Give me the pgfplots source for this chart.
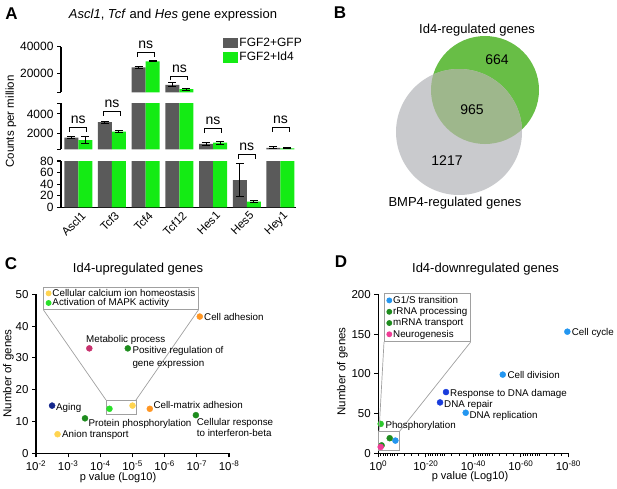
\documentclass[border=0pt]{standalone}
\usepackage{fontspec}
\setmainfont{Liberation Sans}
\usepackage{pgfplots}
\usepackage{pgfplotstable}
\pgfplotsset{compat=1.18}

\definecolor{gfp}{RGB}{90,90,90}
\definecolor{idf}{RGB}{20,235,20}
\definecolor{vgreen}{RGB}{104,190,70}
\definecolor{vgray}{RGB}{201,202,205}
\definecolor{vmix}{RGB}{158,183,140}
\definecolor{cnavy}{RGB}{20,40,140}
\definecolor{cyellow}{RGB}{255,212,80}
\definecolor{cdkgreen}{RGB}{30,140,30}
\definecolor{cmag}{RGB}{200,50,110}
\definecolor{cgreen}{RGB}{40,225,40}
\definecolor{corange}{RGB}{255,150,35}
\definecolor{dltblue}{RGB}{35,150,240}
\definecolor{ddkblue}{RGB}{25,60,220}
\definecolor{dgreen}{RGB}{45,200,45}
\definecolor{dpink}{RGB}{240,60,150}
\definecolor{boxgray}{RGB}{160,160,160}

\pgfplotstableread{
x gfp gfpe idf idfe
0 1540 100 1300 350
1 3140 100 2170 80
2 24500 700 29000 500
3 11200 1500 8000 800
4 890 150 1030 150
5 47 28 10 1
6 500 120 440 40
}\dataA

\tikzset{lab/.style={font=\fontsize{9.8}{11}\selectfont, anchor=base west, inner sep=0pt}}
\pgfplotsset{
 prism/.style={scale only axis,
   axis line style={line width=1.1pt,-},
   every tick/.style={line width=1.1pt,black},
   major tick length=4pt, minor tick length=2.5pt, tick align=outside,
   scaled y ticks=false,
   /pgf/number format/assume math mode=true,
   /pgf/number format/set thousands separator={},
   tick label style={font=\fontsize{12}{14}\selectfont}},
 barsA/.style={prism, anchor=south west, width=235pt, xmin=-0.513, xmax=6.46, clip=true, axis y line*=left},
 scat/.style={only marks, mark=*, mark size=3pt},
}

% #1 = cap (values above it are drawn at #1 without error bars), #2 = floor (values below are dropped)
\newcommand{\barsA}[2]{%
 \addplot[ybar, bar width=14pt, bar shift=-7pt, fill=gfp, draw=none, forget plot,
   restrict y to domain=#2:1000000,
   error bars/.cd, y dir=both, y explicit, error bar style={line width=1pt,black,xshift=-7pt},
   error mark options={rotate=90,line width=1pt,black,mark size=4pt}]
   table[x=x, y expr={min(\thisrow{gfp},#1)}, y error expr={ifthenelse(\thisrow{gfp}>#1,0,\thisrow{gfpe})}]{\dataA};
 \addplot[ybar, bar width=14pt, bar shift=7pt, fill=idf, draw=none, forget plot,
   restrict y to domain=#2:1000000,
   error bars/.cd, y dir=both, y explicit, error bar style={line width=1pt,black,xshift=7pt},
   error mark options={rotate=90,line width=1pt,black,mark size=4pt}]
   table[x=x, y expr={min(\thisrow{idf},#1)}, y error expr={ifthenelse(\thisrow{idf}>#1,0,\thisrow{idfe})}]{\dataA};
}

\begin{document}
\begin{tikzpicture}
\path[use as bounding box] (0,0) rectangle (617pt,488pt);

% ---------------- Panel A ----------------
\begin{axis}[barsA, at={(61pt,395.7pt)}, height=45.6pt, ymin=5700, ymax=40000,
  axis x line=none, ytick={20000,40000}, extra y ticks={5700}, extra y tick labels={},
  legend style={at={(0.688,1.22)}, anchor=north west, draw=none, fill=none,
    font=\fontsize{12}{14}\selectfont, row sep=2.5pt, inner sep=0pt,
    nodes={inner sep=1pt}},
  legend cell align=left,
  legend image code/.code={\fill[#1] (0pt,-5.2pt) rectangle (15.6pt,5.2pt);}]
 \barsA{100000}{5700}
 \addlegendimage{fill=gfp, draw=none}
 \addlegendentry{FGF2+GFP}
 \addlegendimage{fill=idf, draw=none}
 \addlegendentry{FGF2+Id4}
\end{axis}

\begin{axis}[barsA, at={(61pt,338.7pt)}, height=46pt, ymin=340, ymax=5100,
  axis x line=none, ytick={2000,4000}, extra y ticks={340,5100}, extra y tick labels={}]
 \barsA{10000}{340}
\end{axis}

\begin{axis}[barsA, at={(61pt,280.7pt)}, height=46.3pt, ymin=0, ymax=80,
  axis x line*=bottom, ytick={0,20,40,60,80},
  xtick={0,1,2,3,4,5,6}, xticklabels={Ascl1,Tcf3,Tcf4,Tcf12,Hes1,Hes5,Hey1},
  xtick style={draw=none},
  x tick label style={rotate=45, anchor=north east, font=\fontsize{11.5}{13}\selectfont, inner sep=1pt, xshift=3pt}]
 \barsA{150}{0}
\end{axis}

% ---------------- Panel B (Venn) ----------------
\begin{axis}[hide axis, scale only axis, at={(310pt,248pt)}, anchor=south west,
  width=307pt, height=240pt, xmin=310, xmax=617, ymin=0, ymax=240, y dir=reverse, clip=false]
 \fill[vgreen] (axis cs:485,90) circle[radius=54pt];
 \fill[vgray] (axis cs:459,132) circle[radius=63pt];
 \begin{scope}
  \clip (axis cs:459,132) circle[radius=63pt];
  \fill[vmix] (axis cs:485,90) circle[radius=54pt];
 \end{scope}
\end{axis}

% ---------------- Panel C ----------------
\begin{axis}[prism, at={(36pt,34.7pt)}, anchor=south west, width=193pt, height=159pt,
  xmode=log, x dir=reverse, xmin=1e-8, xmax=1e-2, ymin=0, ymax=50,
  ytick={0,10,20,30,40,50},
  xtick={1e-2,1e-3,1e-4,1e-5,1e-6,1e-7,1e-8},
  xticklabels={10\textsuperscript{-2},10\textsuperscript{-3},10\textsuperscript{-4},10\textsuperscript{-5},10\textsuperscript{-6},10\textsuperscript{-7},10\textsuperscript{-8}},
  tick label style={font=\fontsize{11.5}{13}\selectfont},
  axis x line*=bottom, axis y line*=left, clip=false,
  legend style={at={(0.0378,1.048)}, anchor=north west, draw=boxgray, line width=0.8pt,
    fill=white, font=\fontsize{9.8}{10.5}\selectfont, inner xsep=2pt, inner ysep=1pt,
    row sep=-1pt, nodes={inner sep=1pt}, name=legC},
  legend cell align=left,
  legend image code/.code={\fill[#1] (0pt,0pt) circle (2.5pt);}]
 \draw[boxgray, line width=0.8pt] (axis cs:6.67e-5,12.36) rectangle (axis cs:7.8e-6,16.76);
 \coordinate (cz1) at (axis cs:6.67e-5,16.76);
 \coordinate (cz2) at (axis cs:7.8e-6,16.76);
 \addplot[scat, color=cyellow] coordinates {(1.0e-5,15)};
 \addlegendentry{Cellular calcium ion homeostasis}
 \addplot[scat, color=cgreen] coordinates {(5.2e-5,14)};
 \addlegendentry{Activation of MAPK activity}
 \addplot[scat, color=cnavy, forget plot] coordinates {(3.16e-3,15)};
 \addplot[scat, color=cyellow, forget plot] coordinates {(2.14e-3,6)};
 \addplot[scat, color=cdkgreen, forget plot] coordinates {(3.0e-4,11) (1.4e-5,33) (1.07e-7,12)};
 \addplot[scat, color=cmag, forget plot] coordinates {(2.2e-4,33)};
 \addplot[scat, color=corange, forget plot] coordinates {(2.9e-6,14) (8.1e-8,43)};
\end{axis}
\draw[boxgray, line width=0.7pt] (legC.south west) -- (cz1);
\draw[boxgray, line width=0.7pt] (legC.south east) -- (cz2);

% ---------------- Panel D ----------------
\begin{axis}[prism, at={(378.3pt,34.7pt)}, anchor=south west, width=190pt, height=159pt,
  xmin=0, xmax=80, ymin=0, ymax=200,
  ytick={0,50,100,150,200},
  xtick={0,20,40,60,80},
  xticklabels={10\textsuperscript{0},10\textsuperscript{-20},10\textsuperscript{-40},10\textsuperscript{-60},10\textsuperscript{-80}},
  minor xtick={1,2,3,4,5,6,7,8,11,14,17,21,22,23,24,25,26,27,28,31,34,37,41,42,43,44,45,46,47,48,51,54,57,61,62,63,64,65,66,67,68,71,74,77},
  tick label style={font=\fontsize{11.5}{13}\selectfont},
  axis x line*=bottom, axis y line*=left, clip=false,
  legend style={at={(0.030,1.010)}, anchor=north west, draw=boxgray, line width=0.8pt,
    fill=white, font=\fontsize{9.8}{10.5}\selectfont, inner xsep=2pt, inner ysep=2pt,
    row sep=0.8pt, nodes={inner sep=1pt}, name=legD},
  legend cell align=left,
  legend image code/.code={\fill[#1] (0pt,0pt) circle (2.5pt);}]
 \draw[boxgray, line width=0.8pt] (axis cs:0,4.15) rectangle (axis cs:8.84,27.2);
 \coordinate (dz1) at (axis cs:0.3,27.2);
 \coordinate (dz2) at (axis cs:8.84,27.2);
 \addplot[scat, color=dltblue] coordinates {(7.2,16)};
 \addlegendentry{G1/S transition}
 \addplot[scat, color=cdkgreen] coordinates {(4.8,19)};
 \addlegendentry{rRNA processing}
 \addplot[scat, color=cdkgreen] coordinates {(1.4,10)};
 \addlegendentry{mRNA transport}
 \addplot[scat, color=dpink] coordinates {(1,8)};
 \addlegendentry{Neurogenesis}
 \addplot[scat, color=dltblue, forget plot] coordinates {(79.6,153) (52.4,99) (36.8,51)};
 \addplot[scat, color=ddkblue, forget plot] coordinates {(28.5,77) (26,64)};
 \addplot[scat, color=dgreen, forget plot] coordinates {(1,37)};
\end{axis}
\draw[boxgray, line width=0.7pt] (legD.south west) -- (dz1);
\draw[boxgray, line width=0.7pt] (legD.south east) -- (dz2);

% ---------------- Annotations (image pixel coordinates) ----------------
\begin{scope}[shift={(0pt,488pt)}, x=1pt, y=-1pt]
 \node[font=\fontsize{17}{20}\selectfont\bfseries] at (11.5,14) {A};
 \node[font=\fontsize{17}{20}\selectfont\bfseries] at (340,13) {B};
 \node[font=\fontsize{17}{20}\selectfont\bfseries] at (11,264) {C};
 \node[font=\fontsize{17}{20}\selectfont\bfseries] at (341,262) {D};
 \node[font=\fontsize{13}{15}\selectfont, anchor=base] at (173,18.5) {\textit{Ascl1}, \textit{Tcf} and \textit{Hes} gene expression};
 \node[font=\fontsize{13}{15}\selectfont, anchor=base] at (138,272) {Id4-upregulated genes};
 \node[font=\fontsize{13}{15}\selectfont, anchor=base] at (485.5,272) {Id4-downregulated genes};
 \node[font=\fontsize{11.5}{13}\selectfont, rotate=90] at (11,121.5) {Counts per million};
 \node[font=\fontsize{11.5}{13}\selectfont, rotate=90] at (8.5,373.5) {Number of genes};
 \node[font=\fontsize{11.5}{13}\selectfont, rotate=90] at (342.5,371.5) {Number of genes};
 \node[font=\fontsize{11}{13}\selectfont, anchor=base] at (118,480.5) {p value (Log10)};
 \node[font=\fontsize{11}{13}\selectfont, anchor=base] at (470,479) {p value (Log10)};
 \foreach \cx/\by in {78.3/127.5, 112.0/111.7, 145.7/52.3, 179.4/76, 213.1/128.3, 246.8/154.3, 280.5/127.7}{
   \draw[line width=0.9pt] (\cx-8.5,\by+4.3) -- (\cx-8.5,\by) -- (\cx+8.5,\by) -- (\cx+8.5,\by+4.3);
   \node[font=\fontsize{14}{16}\selectfont, anchor=base, inner sep=0pt] at (\cx,\by-3.7) {ns};
 }
 \node[font=\fontsize{13}{15}\selectfont, anchor=base] at (477,33.5) {Id4-regulated genes};
 \node[font=\fontsize{14}{16}\selectfont, anchor=base] at (497,65) {664};
 \node[font=\fontsize{14}{16}\selectfont, anchor=base] at (472,115) {965};
 \node[font=\fontsize{14}{16}\selectfont, anchor=base] at (447,165) {1217};
 \node[font=\fontsize{13}{15}\selectfont, anchor=base] at (455,206.7) {BMP4-regulated genes};
 \node[lab] at (204,320) {Cell adhesion};
 \node[lab] at (86,342.7) {Metabolic process};
 \node[lab] at (132.3,353.5) {Positive regulation of};
 \node[lab] at (132.3,366) {gene expression};
 \node[lab] at (56,410) {Aging};
 \node[lab] at (153.3,408.5) {Cell-matrix adhesion};
 \node[lab] at (88.3,426) {Protein phosphorylation};
 \node[lab] at (196.7,425) {Cellular response};
 \node[lab] at (196.7,436.8) {to interferon-beta};
 \node[lab] at (62,437.8) {Anion transport};
 \node[lab] at (571.7,335) {Cell cycle};
 \node[lab] at (507.3,378.8) {Cell division};
 \node[lab] at (450,396.8) {Response to DNA damage};
 \node[lab] at (444,407.5) {DNA repair};
 \node[lab] at (469.3,418.5) {DNA replication};
 \node[lab] at (385.3,428.5) {Phosphorylation};
\end{scope}
\end{tikzpicture}
\end{document}
